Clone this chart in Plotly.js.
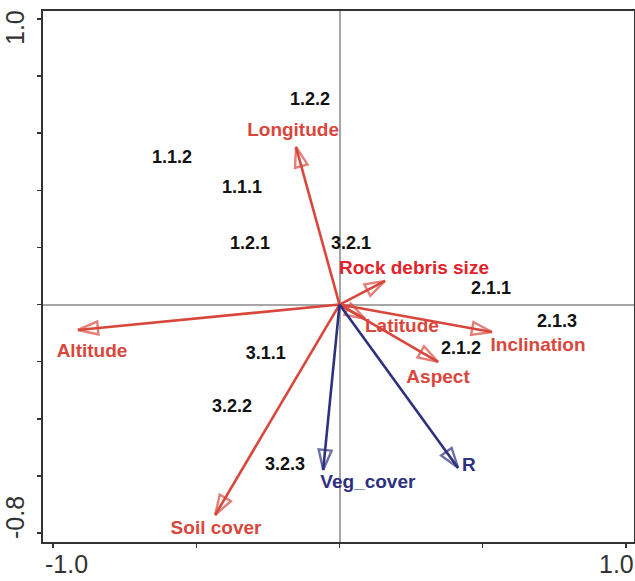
<!DOCTYPE html>
<html>
<head>
<meta charset="utf-8">
<script src="https://cdn.plot.ly/plotly-3.0.1.min.js"></script>
<style>html,body{margin:0;padding:0;background:#fff;}#chart{width:635px;height:581px;}</style>
</head>
<body>
<div id="chart"></div>
<script>
// Environmental variable vectors (red)
var envNames = ["Longitude", "Rock debris size", "Altitude", "Latitude", "Inclination", "Aspect", "Soil cover"];
var envX = [-0.152, 0.159, -0.913, 0.089, 0.532, 0.344, -0.434];
var envY = [0.552, 0.083, -0.089, -0.050, -0.096, -0.201, -0.737];
var envLabelX = [-0.162, 0.260, -0.864, 0.218, 0.693, 0.344, -0.431];
var envLabelY = [0.608, 0.125, -0.166, -0.078, -0.145, -0.257, -0.786];

// Response vectors (blue)
var respNames = ["Veg_cover", "R"];
var respX = [-0.057, 0.414];
var respY = [-0.579, -0.572];
var respLabelX = [0.099, 0.452];
var respLabelY = [-0.625, -0.565];

// Sites
var siteNames = ["1.2.2", "1.1.2", "1.1.1", "1.2.1", "3.2.1", "2.1.1", "2.1.3", "2.1.2", "3.1.1", "3.2.2", "3.2.3"];
var siteX = [-0.103, -0.585, -0.340, -0.312, 0.040, 0.529, 0.759, 0.424, -0.257, -0.375, -0.190];
var siteY = [0.713, 0.513, 0.408, 0.209, 0.209, 0.051, -0.064, -0.159, -0.176, -0.359, -0.562];

// Axis ticks
var xTickVals = [-1.0, -0.5, 0, 0.5, 1.0];
var yTickVals = [-0.8, -0.6, -0.4, -0.2, 0, 0.2, 0.4, 0.6, 0.8, 1.0];
// Labelled ticks (only the axis ends carry labels)
var xLabelVals = [-1.0, 1.0];
var xLabelText = ["-1.0", "1.0"];
var yLabelVals = [-0.8, 1.0];
var yLabelText = ["-0.8", "1.0"];

var RED = "#d9473c";
var BRIGHTRED = "#e3222b";
var BLUE = "#2e3080";
var FONT = "Liberation Sans, Arial, sans-serif";

var traces = [];
function arrow(x, y, color) {
  return {
    type: "scatter", mode: "lines+markers",
    x: [0, x], y: [0, y],
    line: {color: color, width: 2.6},
    marker: {symbol: "arrow-open", size: [0, 21], angleref: "previous",
             color: color, line: {width: 2.4, color: color}},
    hoverinfo: "skip", showlegend: false, cliponaxis: false
  };
}
for (var i = 0; i < envNames.length; i++) traces.push(arrow(envX[i], envY[i], RED));
for (var j = 0; j < respNames.length; j++) traces.push(arrow(respX[j], respY[j], BLUE));

var envColors = envNames.map(function(n){ return n === "Rock debris size" ? BRIGHTRED : RED; });
traces.push({
  type: "scatter", mode: "text", x: envLabelX, y: envLabelY, text: envNames,
  textposition: "middle center",
  textfont: {family: FONT, size: 19, color: envColors, weight: "bold"},
  hoverinfo: "skip", showlegend: false, cliponaxis: false
});
traces.push({
  type: "scatter", mode: "text", x: respLabelX, y: respLabelY, text: respNames,
  textposition: "middle center",
  textfont: {family: FONT, size: 19, color: BLUE, weight: "bold"},
  hoverinfo: "skip", showlegend: false, cliponaxis: false
});
traces.push({
  type: "scatter", mode: "text", x: siteX, y: siteY, text: siteNames,
  textposition: "middle center",
  textfont: {family: FONT, size: 18, color: "#111111", weight: "bold"},
  hoverinfo: "skip", showlegend: false, cliponaxis: false
});

// Axis-end labels, nudged inward as in the reference
var xShifts = [13, -9];
var yShifts = [15, -9];
var annotations = [];
xLabelVals.forEach(function(v, k) {
  annotations.push({
    x: v, xref: "x", y: 0, yref: "paper", text: xLabelText[k], showarrow: false,
    xanchor: "center", yanchor: "middle", xshift: xShifts[k], yshift: -22,
    font: {family: FONT, size: 25, color: "#333333"}
  });
});
yLabelVals.forEach(function(v, k) {
  annotations.push({
    x: 0, xref: "paper", y: v, yref: "y", text: yLabelText[k], showarrow: false,
    textangle: -90, xanchor: "center", yanchor: "middle", xshift: -28, yshift: yShifts[k],
    font: {family: FONT, size: 25, color: "#333333"}
  });
});

var layout = {
  width: 635, height: 581,
  margin: {l: 43, r: 1, t: 11, b: 39},
  paper_bgcolor: "#ffffff", plot_bgcolor: "#ffffff",
  showlegend: false,
  annotations: annotations,
  xaxis: {
    range: [-1.035, 1.028], showgrid: false,
    zeroline: true, zerolinecolor: "#a6a6a6", zerolinewidth: 2,
    showline: true, linecolor: "#333333", linewidth: 2, mirror: true,
    ticks: "outside", ticklen: 4, tickwidth: 1.5, tickcolor: "#333333",
    tickvals: xTickVals, showticklabels: false
  },
  yaxis: {
    range: [-0.8315, 1.028], showgrid: false,
    zeroline: true, zerolinecolor: "#a6a6a6", zerolinewidth: 2,
    showline: true, linecolor: "#333333", linewidth: 2, mirror: true,
    ticks: "outside", ticklen: 4, tickwidth: 1.5, tickcolor: "#333333",
    tickvals: yTickVals, showticklabels: false
  }
};

Plotly.newPlot("chart", traces, layout, {displayModeBar: false, staticPlot: true});
</script>
</body>
</html>
